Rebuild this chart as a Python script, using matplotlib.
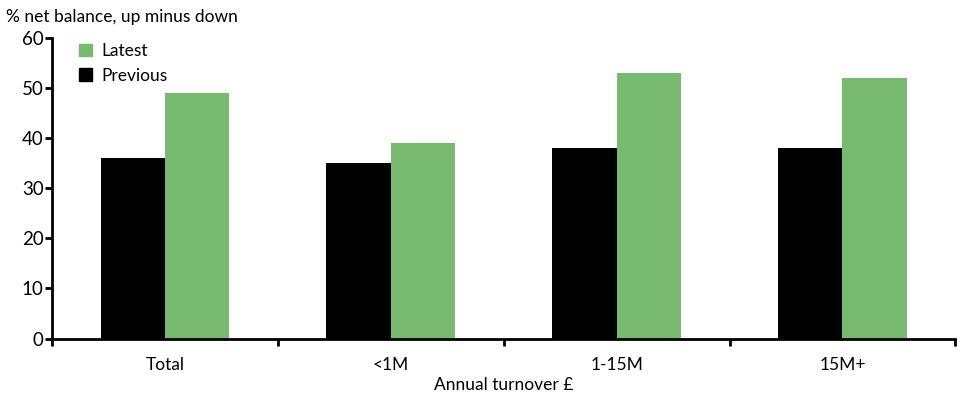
import numpy as np
import matplotlib.pyplot as plt
from matplotlib.patches import Patch

plt.rcParams['font.family'] = ['Lato', 'DejaVu Sans']

categories = ["Total", "<1M", "1-15M", "15M+"]
previous = [36, 35, 38, 38]
latest = [49, 39, 53, 52]

green = "#78BA6F"

fig = plt.figure(figsize=(9.64, 3.96), dpi=100)
ax = fig.add_axes([0.054, 0.145, 0.937, 0.76])

x = np.arange(len(categories))
w = 0.285
ax.bar(x - w / 2, previous, w, color="black", label="Previous")
ax.bar(x + w / 2, latest, w, color=green, label="Latest")

ax.set_xlim(-0.5, len(categories) - 0.5)
ax.set_ylim(0, 60)
ax.set_yticks(range(0, 61, 10))
ax.tick_params(axis="y", labelsize=13.5, width=2, length=5, pad=1)

# category labels in the middle, tick marks on the group boundaries
ax.set_xticks(x)
ax.set_xticklabels(categories, fontsize=12.5)
ax.tick_params(axis="x", which="major", length=0, pad=13)
ax.set_xticks(np.arange(-0.5, len(categories)), minor=True)
ax.tick_params(axis="x", which="minor", width=2, length=5)

for side in ["top", "right"]:
    ax.spines[side].set_visible(False)
ax.spines["left"].set_linewidth(2)
ax.spines["bottom"].set_linewidth(2)

ax.set_xlabel("Annual turnover £", fontsize=12.5, labelpad=3)
fig.text(0.006, 0.958, "% net balance, up minus down", fontsize=12.5, va="center")

handles = [Patch(color=green, label="Latest"), Patch(color="black", label="Previous")]
ax.legend(handles=handles, loc="upper left", bbox_to_anchor=(0.012, 1.034),
          frameon=False, fontsize=12.5, handlelength=0.75, handleheight=0.75,
          handletextpad=0.55, labelspacing=0.5)

fig.savefig("out.png", dpi=100)
